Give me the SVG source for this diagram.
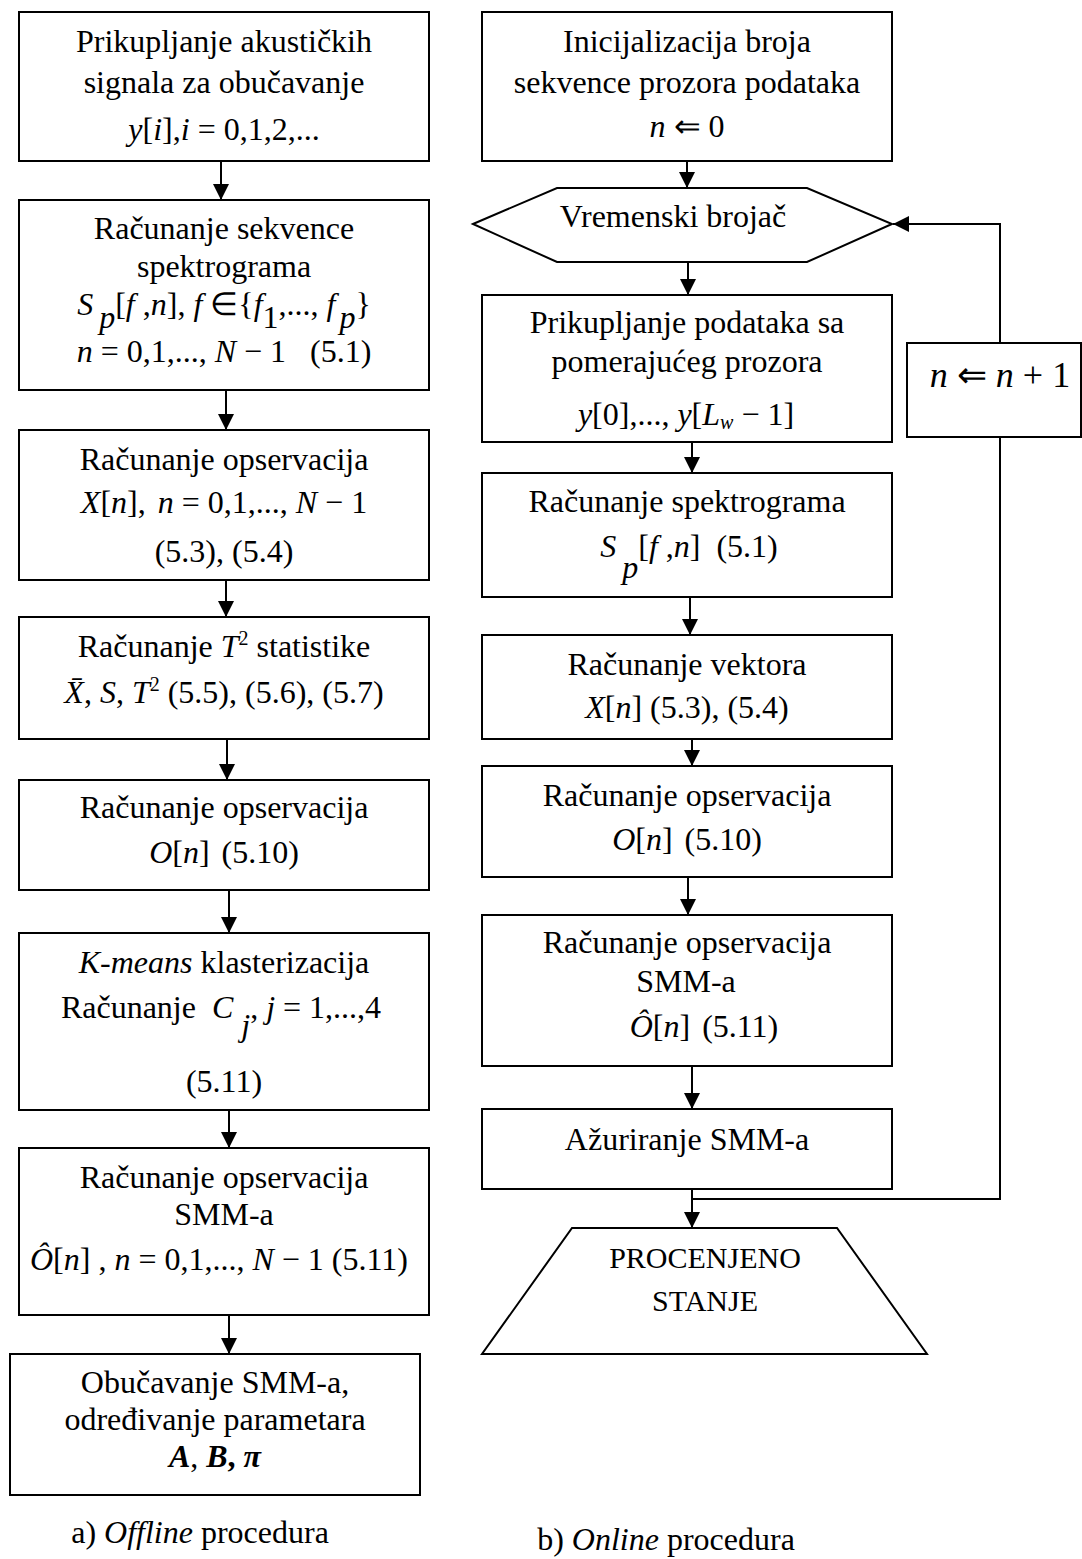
<svg xmlns="http://www.w3.org/2000/svg" width="1082" height="1559" viewBox="0 0 1082 1559">
<style>
.box{fill:#fff;stroke:#000;stroke-width:2}
.t{font-family:"Liberation Serif","Times New Roman",serif;font-size:32px;text-anchor:middle;fill:#000}
.i{font-style:italic}
.b{font-weight:bold}
.sm{font-size:20px}
.con{fill:none;stroke:#000;stroke-width:2}
</style>
<defs>
<marker id="ah" markerUnits="userSpaceOnUse" markerWidth="17" markerHeight="16" refX="16" refY="8" orient="auto">
<path d="M0,0 L16,8 L0,16 z" fill="#000"/>
</marker>
</defs>
<rect width="1082" height="1559" fill="#fff"/>

<g id="connectors">
<line class="con" x1="221" y1="161" x2="221" y2="200" marker-end="url(#ah)"/>
<line class="con" x1="226" y1="390" x2="226" y2="430" marker-end="url(#ah)"/>
<line class="con" x1="226" y1="580" x2="226" y2="617" marker-end="url(#ah)"/>
<line class="con" x1="227" y1="739" x2="227" y2="780" marker-end="url(#ah)"/>
<line class="con" x1="229" y1="890" x2="229" y2="933" marker-end="url(#ah)"/>
<line class="con" x1="229" y1="1110" x2="229" y2="1148" marker-end="url(#ah)"/>
<line class="con" x1="229" y1="1315" x2="229" y2="1354" marker-end="url(#ah)"/>
<line class="con" x1="687" y1="161" x2="687" y2="188" marker-end="url(#ah)"/>
<line class="con" x1="688" y1="262" x2="688" y2="295" marker-end="url(#ah)"/>
<line class="con" x1="692" y1="442" x2="692" y2="473" marker-end="url(#ah)"/>
<line class="con" x1="690" y1="597" x2="690" y2="635" marker-end="url(#ah)"/>
<line class="con" x1="692" y1="739" x2="692" y2="766" marker-end="url(#ah)"/>
<line class="con" x1="688" y1="877" x2="688" y2="915" marker-end="url(#ah)"/>
<line class="con" x1="692" y1="1066" x2="692" y2="1109" marker-end="url(#ah)"/>
<line class="con" x1="692" y1="1189" x2="692" y2="1228" marker-end="url(#ah)"/>
<path class="con" d="M692,1199 H1000 V437"/>
<path class="con" d="M1000,343 V224 H893" marker-end="url(#ah)"/>
</g>

<g id="L1">
<rect class="box" x="19" y="12" width="410" height="149"/>
<text class="t" x="224" y="52">Prikupljanje akustičkih</text>
<text class="t" x="224" y="93">signala za obučavanje</text>
<text class="t" x="224" y="140"><tspan class="i">y</tspan>[<tspan class="i">i</tspan>],<tspan class="i">i</tspan> = 0,1,2,...</text>
</g>

<g id="L2">
<rect class="box" x="19" y="200" width="410" height="190"/>
<text class="t" x="224" y="239">Računanje sekvence</text>
<text class="t" x="224" y="277">spektrograma</text>
<text class="t" x="224" y="315"><tspan class="i">S</tspan><tspan class="i" dx="6" dy="13">p</tspan><tspan dy="-13">[</tspan><tspan class="i">f</tspan> ,<tspan class="i">n</tspan>], <tspan class="i">f</tspan> ∈{<tspan class="i">f</tspan><tspan dy="13">1</tspan><tspan dy="-13">,..., </tspan><tspan class="i">f</tspan><tspan class="i" dx="4" dy="13">p</tspan><tspan dy="-13">}</tspan></text>
<text class="t" x="224" y="362"><tspan class="i">n</tspan> = 0,1,..., <tspan class="i">N</tspan> − 1<tspan dx="24">(5.1)</tspan></text>
</g>

<g id="L3">
<rect class="box" x="19" y="430" width="410" height="150"/>
<text class="t" x="224" y="470">Računanje opservacija</text>
<text class="t" x="224" y="513"><tspan class="i">X</tspan>[<tspan class="i">n</tspan>],<tspan class="i" dx="12">n</tspan> = 0,1,..., <tspan class="i">N</tspan> − 1</text>
<text class="t" x="224" y="562">(5.3), (5.4)</text>
</g>

<g id="L4">
<rect class="box" x="19" y="617" width="410" height="122"/>
<text class="t" x="224" y="657">Računanje <tspan class="i">T</tspan><tspan class="sm" dy="-12">2</tspan><tspan dy="12"> statistike</tspan></text>
<text class="t" x="224" y="703"><tspan class="i">X̄</tspan>, <tspan class="i">S</tspan>, <tspan class="i">T</tspan><tspan class="sm" dy="-12">2</tspan><tspan dy="12" dx="8">(5.5), (5.6), (5.7)</tspan></text>
</g>

<g id="L5">
<rect class="box" x="19" y="780" width="410" height="110"/>
<text class="t" x="224" y="818">Računanje opservacija</text>
<text class="t" x="224" y="863"><tspan class="i">O</tspan>[<tspan class="i">n</tspan>]<tspan dx="12">(5.10)</tspan></text>
</g>

<g id="L6">
<rect class="box" x="19" y="933" width="410" height="177"/>
<text class="t" x="224" y="973"><tspan class="i">K-means</tspan> klasterizacija</text>
<text class="t" x="221" y="1018">Računanje <tspan class="i" dx="8">C</tspan><tspan class="i" dx="8" dy="18">j</tspan><tspan dy="-18">, </tspan><tspan class="i">j</tspan> = 1,...,4</text>
<text class="t" x="224" y="1092">(5.11)</text>
</g>

<g id="L7">
<rect class="box" x="19" y="1148" width="410" height="167"/>
<text class="t" x="224" y="1188">Računanje opservacija</text>
<text class="t" x="224" y="1225">SMM-a</text>
<text class="t" x="219" y="1270"><tspan class="i">Ô</tspan>[<tspan class="i">n</tspan>] , <tspan class="i">n</tspan> = 0,1,..., <tspan class="i">N</tspan> − 1 (5.11)</text>
</g>

<g id="L8">
<rect class="box" x="10" y="1354" width="410" height="141"/>
<text class="t" x="215" y="1393">Obučavanje SMM-a,</text>
<text class="t" x="215" y="1430">određivanje parametara</text>
<text class="t" x="215" y="1467"><tspan class="i b">A</tspan>, <tspan class="i b">B</tspan><tspan class="b">, </tspan><tspan class="i b">π</tspan></text>
</g>

<g id="captionA">
<text class="t" x="200" y="1543">a) <tspan class="i">Offline</tspan> procedura</text>
</g>

<g id="R1">
<rect class="box" x="482" y="12" width="410" height="149"/>
<text class="t" x="687" y="52">Inicijalizacija broja</text>
<text class="t" x="687" y="93">sekvence prozora podataka</text>
<text class="t" x="687" y="137"><tspan class="i">n</tspan> ⇐ 0</text>
</g>

<g id="R_hex">
<polygon class="box" points="473,224 557,188 807,188 892,224 807,262 557,262"/>
<text class="t" x="673" y="227">Vremenski brojač</text>
</g>

<g id="R2">
<rect class="box" x="482" y="295" width="410" height="147"/>
<text class="t" x="687" y="333">Prikupljanje podataka sa</text>
<text class="t" x="687" y="372">pomerajućeg prozora</text>
<text class="t" x="686" y="425"><tspan class="i">y</tspan>[0],..., <tspan class="i">y</tspan>[<tspan class="i">L</tspan><tspan class="i sm" dy="4">w</tspan><tspan dy="-4"> − 1]</tspan></text>
</g>

<g id="R3">
<rect class="box" x="482" y="473" width="410" height="124"/>
<text class="t" x="687" y="512">Računanje spektrograma</text>
<text class="t" x="689" y="557"><tspan class="i">S</tspan><tspan class="i" dx="6" dy="21">p</tspan><tspan dy="-21">[</tspan><tspan class="i">f</tspan> ,<tspan class="i">n</tspan>]<tspan dx="16">(5.1)</tspan></text>
</g>

<g id="R4">
<rect class="box" x="482" y="635" width="410" height="104"/>
<text class="t" x="687" y="675">Računanje vektora</text>
<text class="t" x="687" y="718"><tspan class="i">X</tspan>[<tspan class="i">n</tspan>] (5.3), (5.4)</text>
</g>

<g id="R5">
<rect class="box" x="482" y="766" width="410" height="111"/>
<text class="t" x="687" y="806">Računanje opservacija</text>
<text class="t" x="687" y="850"><tspan class="i">O</tspan>[<tspan class="i">n</tspan>]<tspan dx="12">(5.10)</tspan></text>
</g>

<g id="R6">
<rect class="box" x="482" y="915" width="410" height="151"/>
<text class="t" x="687" y="953">Računanje opservacija</text>
<text class="t" x="686" y="992">SMM-a</text>
<text class="t" x="704" y="1037"><tspan class="i">Ô</tspan>[<tspan class="i">n</tspan>]<tspan dx="12">(5.11)</tspan></text>
</g>

<g id="R7">
<rect class="box" x="482" y="1109" width="410" height="80"/>
<text class="t" x="687" y="1150">Ažuriranje SMM-a</text>
</g>

<g id="R_out">
<polygon class="box" points="572,1228 837,1228 927,1354 482,1354"/>
<text class="t" x="705" y="1268" style="font-size:30px">PROCENJENO</text>
<text class="t" x="705" y="1311" style="font-size:30px">STANJE</text>
</g>

<g id="R_inc">
<rect class="box" x="907" y="343" width="174" height="94"/>
<text class="t" x="1000" y="387" style="font-size:36px"><tspan class="i">n</tspan> ⇐ <tspan class="i">n</tspan> + 1</text>
</g>

<g id="captionB">
<text class="t" x="666" y="1550">b) <tspan class="i">Online</tspan> procedura</text>
</g>
</svg>
